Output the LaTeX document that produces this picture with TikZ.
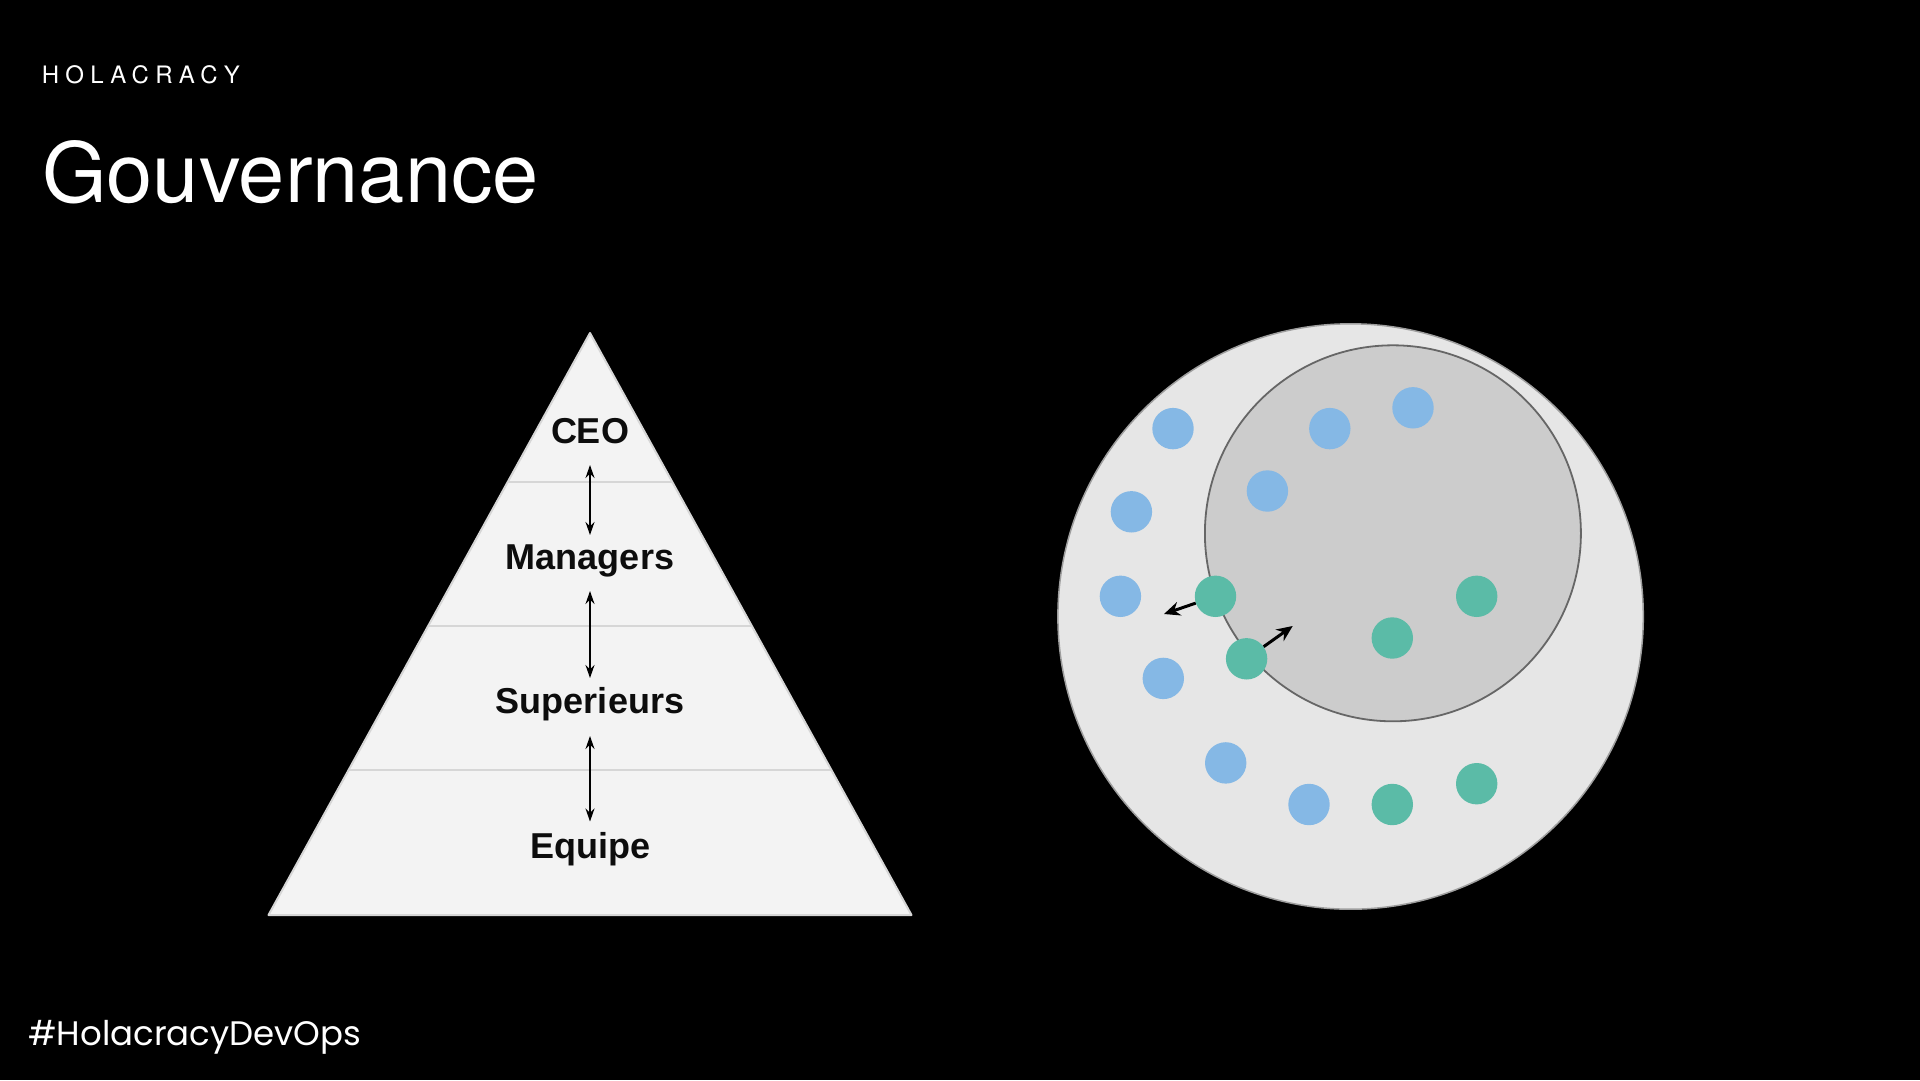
\documentclass[tikz,border=0pt]{standalone}
\usepackage{fontspec}
\setmainfont{Liberation Sans}
\newfontfamily\headfont{TeX Gyre Heros}
\newfontfamily\kickerfont[LetterSpace=26]{TeX Gyre Heros}
\newfontfamily\footfont{Poppins}
\usetikzlibrary{arrows.meta}

\definecolor{pyrfill}{HTML}{F3F3F3}
\definecolor{pyrline}{HTML}{D6D6D6}
\definecolor{outerfill}{HTML}{E6E6E6}
\definecolor{outerline}{HTML}{9E9E9E}
\definecolor{innerfill}{HTML}{CCCCCC}
\definecolor{innerline}{HTML}{666666}
\definecolor{dotblue}{HTML}{85B8E5}
\definecolor{dotgreen}{HTML}{5BBBA7}

\begin{document}
\begin{tikzpicture}[x=1pt,y=-1pt,
  lab/.style={font=\fontsize{36}{40}\selectfont\bfseries, text=black!95, inner sep=0pt, text height=25pt, text depth=0pt},
  updown/.style={{Stealth[length=13pt,width=9pt]}-{Stealth[length=13pt,width=9pt]}, line width=1.6pt, black},
  bdot/.style={circle, fill=dotblue, minimum size=41.4pt, inner sep=0pt},
  gdot/.style={circle, fill=dotgreen, minimum size=41.4pt, inner sep=0pt},
  move/.style={-{Stealth[length=16pt,width=14pt]}, line width=3pt, black},
  whitetext/.style={anchor=base west, inner sep=0pt, text=white}
]
\fill[black] (0,0) rectangle (1920,1080);
\useasboundingbox (0,0) rectangle (1920,1080);

% headings
\node[whitetext, font=\kickerfont\fontsize{24}{28}\selectfont] (kick) at (41.7,83.3) {HOLACRACY};
\node[whitetext, font=\headfont\fontsize{83}{96}\selectfont] (title) at (42,202.7) {Gouvernance};
\node[whitetext, font=\footfont\fontsize{34}{40}\selectfont] (foot) at (28,1045) {\#HolacracyDevOps};

% pyramid
\filldraw[fill=pyrfill, draw=pyrline, line width=2pt, line join=round]
  (590,333) -- (911.5,915) -- (268.5,915) -- cycle;
\draw[pyrline, line width=2pt] (507.9,481.7) -- (672.1,481.7);
\draw[pyrline, line width=2pt] (428.1,626) -- (751.9,626);
\draw[pyrline, line width=2pt] (348.6,770) -- (831.4,770);

\node[lab] (ceo) at (590,431) {CEO};
\node[lab] (man) at (590,557) {Managers};
\node[lab] (sup) at (590,701) {Superieurs};
\node[lab] (equ) at (590,845.5) {Equipe};

\draw[updown, shorten <=34pt, shorten >=22pt] (ceo.center) -- (man.center);
\draw[updown, shorten <=34pt, shorten >=23pt] (man.center) -- (sup.center);
\draw[updown, shorten <=35pt, shorten >=24pt] (sup.center) -- (equ.center);

% circles
\node[circle, fill=outerfill, draw=outerline, line width=1.5pt, minimum size=585.4pt, inner sep=0pt] (outer) at (1350.6,616.5) {};
\node[circle, fill=innerfill, draw=innerline, line width=1.8pt, minimum size=376pt, inner sep=0pt] (inner) at (1392.9,533.3) {};

% blue dots
\node[bdot] (b1) at (1173,428.6) {};
\node[bdot] (b2) at (1329.8,428.6) {};
\node[bdot] (b3) at (1413,407.8) {};
\node[bdot] (b4) at (1131.4,511.8) {};
\node[bdot] (b5) at (1267.4,491) {};
\node[bdot] (b6) at (1120.4,596.3) {};
\node[bdot] (b7) at (1163.3,678.4) {};
\node[bdot] (b8) at (1225.7,762.9) {};
\node[bdot] (b9) at (1309,804.5) {};
% green dots
\node[gdot] (g1) at (1215.5,596.3) {};
\node[gdot] (g2) at (1476.7,596.3) {};
\node[gdot] (g3) at (1392.3,638) {};
\node[gdot] (g4) at (1246.6,658.8) {};
\node[gdot] (g5) at (1392.3,804.5) {};
\node[gdot] (g6) at (1476.7,783.7) {};

\coordinate (t1) at (1164,614);
\coordinate (t2) at (1292.7,626);
\draw[move] (g1) -- (t1);
\draw[move] (g4) -- (t2);
\end{tikzpicture}
\end{document}
